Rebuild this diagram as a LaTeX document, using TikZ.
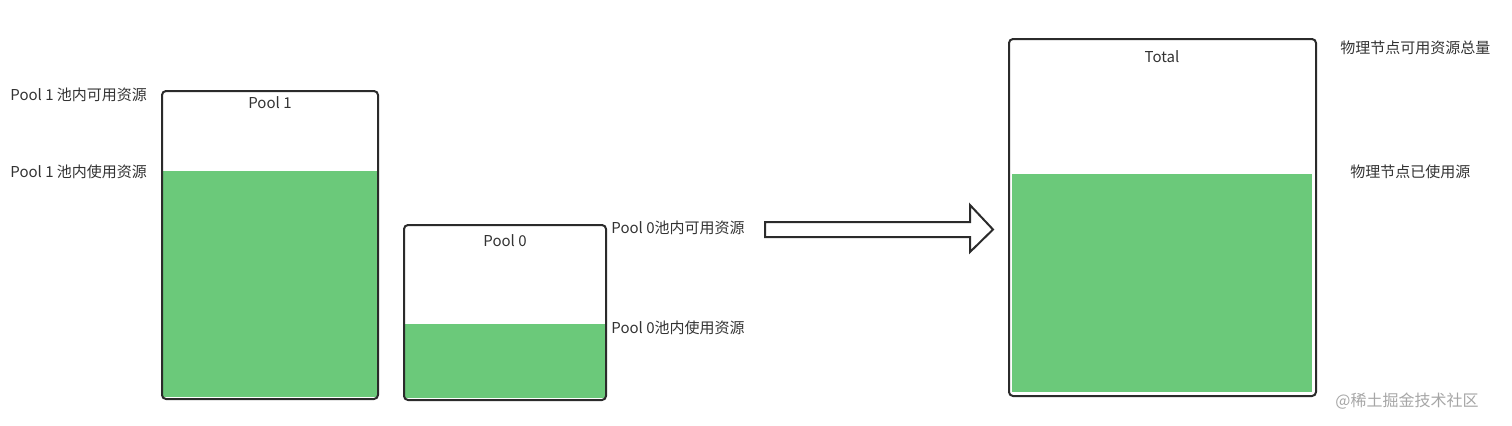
\documentclass[tikz,border=0pt]{standalone}
\usepackage{fontspec}
\setmainfont{Noto Sans CJK SC}
\definecolor{fillg}{HTML}{6BC97A}
\definecolor{edge}{HTML}{2B2B2B}
\definecolor{txt}{HTML}{333333}
\begin{document}
\begin{tikzpicture}[x=0.5pt,y=-0.5pt,
  poolbox/.style={draw=edge,line width=1pt,rounded corners=2pt},
  lbl/.style={font=\fontsize{7.5}{8}\selectfont,text=txt,inner sep=0pt,anchor=west},
  ttl/.style={font=\fontsize{7.5}{8}\selectfont,text=txt,inner sep=0pt}]
\useasboundingbox (0,0) rectangle (1512,425);
% Pool 1
\fill[fillg] (163,171) rectangle (377,397);
\draw[poolbox] (162,91) rectangle (378,399);
\node[ttl] (t1) at (270,103) {Pool 1};
% Pool 0
\fill[fillg] (405,324) rectangle (605,398);
\draw[poolbox] (404,225) rectangle (606,400);
\node[ttl] (t0) at (505,241) {Pool 0};
% Total
\fill[fillg] (1012,174) rectangle (1312,392);
\draw[poolbox] (1009,39) rectangle (1316,396);
\node[ttl] (tt) at (1162,57) {Total};
% arrow
\draw[edge,line width=1pt,line join=miter] (765,222) -- (970,222) -- (970,205) -- (993,229.5) -- (970,252) -- (970,237) -- (765,237) -- cycle;
% labels
\node[lbl] (l1) at (10,95) {Pool 1 池内可用资源};
\node[lbl] (l2) at (10,172) {Pool 1 池内使用资源};
\node[lbl] (l3) at (611,228) {Pool 0池内可用资源};
\node[lbl] (l4) at (611,328) {Pool 0池内使用资源};
\node[lbl] (l5) at (1340,48) {物理节点可用资源总量};
\node[lbl] (l6) at (1350,172) {物理节点已使用源};
\node[lbl,text=gray!70,font=\fontsize{8}{9}\selectfont] (wm) at (1335,401) {@稀土掘金技术社区};
\end{tikzpicture}
\end{document}
